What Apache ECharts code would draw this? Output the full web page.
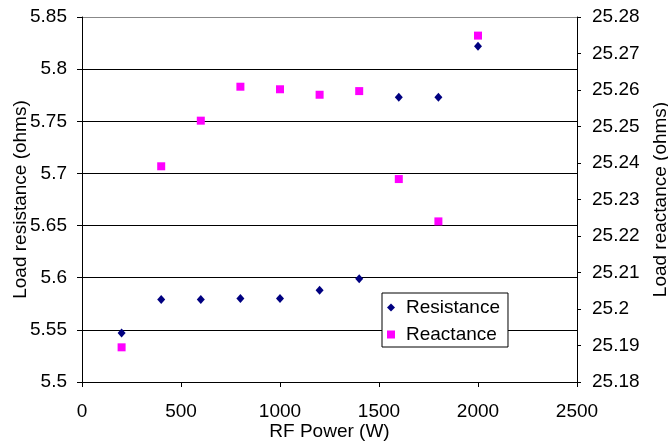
<!DOCTYPE html>
<html>
<head>
<meta charset="utf-8">
<script src="https://cdn.jsdelivr.net/npm/echarts@6/dist/echarts.min.js"></script>
<style>html,body{margin:0;padding:0;background:#fff}#c{width:668px;height:448px}</style>
</head>
<body>
<div id="c"></div>
<script>
const rfPower = [200, 400, 600, 800, 1000, 1200, 1400, 1600, 1800, 2000];
const resistance = [5.547, 5.579, 5.579, 5.580, 5.580, 5.588, 5.599, 5.773, 5.773, 5.822];
const reactance = [25.1895, 25.2391, 25.2516, 25.2609, 25.2602, 25.2587, 25.2597, 25.2356, 25.2240, 25.2749];
const seriesNames = ['Resistance', 'Reactance'];

const FONT = '"Liberation Sans", Arial, sans-serif';
const chart = echarts.init(document.getElementById('c'), null, {renderer: 'canvas'});
const lbl = {color: '#000', fontFamily: FONT, fontSize: 19};
chart.setOption({
  animation: false,
  backgroundColor: '#fff',
  grid: {left: 82, right: 91, top: 17, bottom: 66, containLabel: false, outerBoundsMode: 'none'},
  legend: {
    orient: 'vertical', left: 382, top: 293,
    padding: [5, 8, 3, 5],
    itemGap: 8, itemWidth: 8, itemHeight: 8,
    backgroundColor: '#fff', borderColor: '#000', borderWidth: 1, borderRadius: 0,
    textStyle: {color: '#000', fontFamily: FONT, fontSize: 19, padding: [0, 0, 0, 6]},
    data: seriesNames
  },
  xAxis: {
    type: 'value', min: 0, max: 2500, interval: 500,
    name: 'RF Power (W)', nameLocation: 'middle', nameGap: 40, nameMoveOverlap: false,
    nameTextStyle: lbl,
    axisLine: {show: true, lineStyle: {color: '#000', width: 1}},
    axisTick: {show: true, inside: false, length: 5, lineStyle: {color: '#000'}},
    axisLabel: Object.assign({margin: 20, formatter: v => String(v)}, lbl),
    splitLine: {show: false}
  },
  yAxis: [{
    type: 'value', min: 5.5, max: 5.85, interval: 0.05, position: 'left',
    name: 'Load resistance (ohms)', nameLocation: 'middle', nameGap: 52, nameRotate: 90, nameMoveOverlap: false,
    nameTextStyle: lbl,
    axisLine: {show: true, lineStyle: {color: '#000', width: 1}},
    axisTick: {show: true, inside: false, length: 5, lineStyle: {color: '#000'}},
    axisLabel: Object.assign({margin: 15}, lbl),
    splitLine: {show: true, lineStyle: {color: ['#000','#000','#000','#000','#000','#000','#000','#888'], width: 1}}
  }, {
    type: 'value', min: 25.18, max: 25.28, interval: 0.01, position: 'right',
    name: 'Load reactance (ohms)', nameLocation: 'middle', nameGap: 74, nameRotate: 90, nameMoveOverlap: false,
    nameTextStyle: lbl,
    axisLine: {show: true, lineStyle: {color: '#000', width: 1}},
    axisTick: {show: true, inside: false, length: 4, lineStyle: {color: '#000'}},
    axisLabel: Object.assign({margin: 15}, lbl),
    splitLine: {show: false}
  }],
  series: [{
    name: seriesNames[0], type: 'scatter', yAxisIndex: 0,
    symbol: 'diamond', symbolSize: [8, 9],
    itemStyle: {color: '#000080', opacity: 1},
    data: rfPower.map((x, i) => [x, resistance[i]])
  }, {
    name: seriesNames[1], type: 'scatter', yAxisIndex: 1,
    symbol: 'rect', symbolSize: 8,
    itemStyle: {color: '#FF00FF', opacity: 1},
    data: rfPower.map((x, i) => [x, reactance[i]])
  }]
});
</script>
</body>
</html>
